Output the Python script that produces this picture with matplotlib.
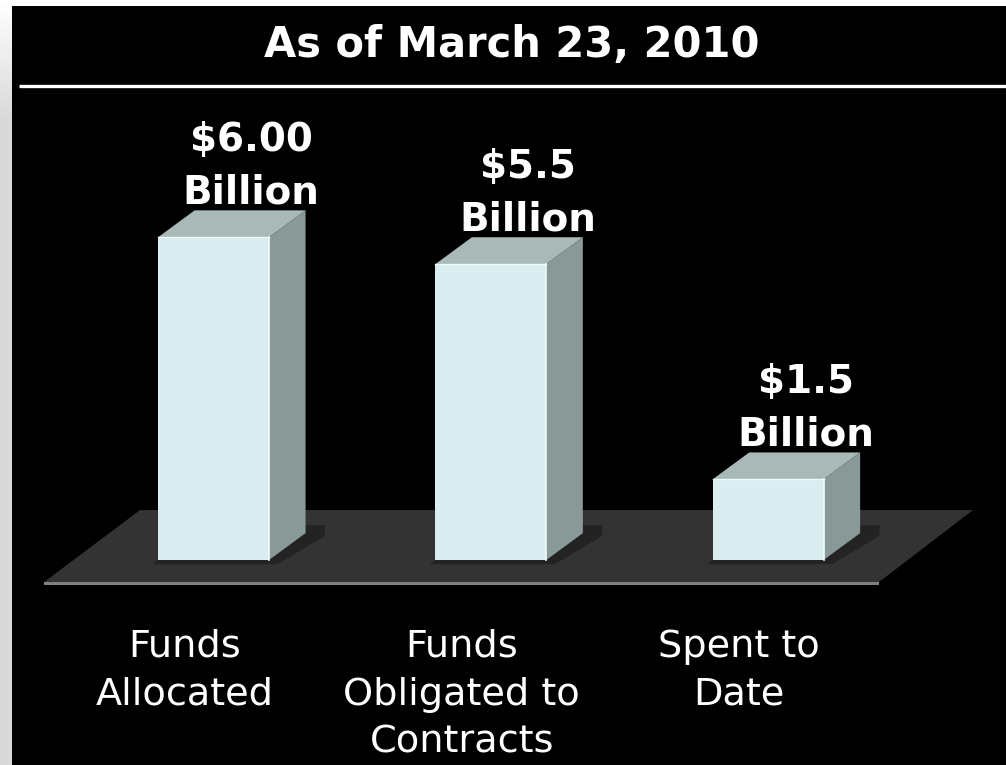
import numpy as np
import matplotlib
matplotlib.use('Agg')
import matplotlib.pyplot as plt
from matplotlib.patches import Polygon, Rectangle
from matplotlib.colors import LinearSegmentedColormap

# data
categories = ['Funds\nAllocated', 'Funds\nObligated to\nContracts', 'Spent to\nDate']
values = [6.00, 5.5, 1.5]
value_labels = ['$6.00\nBillion', '$5.5\nBillion', '$1.5\nBillion']
title = 'As of March 23, 2010'

FRONT = '#daedf1'
SIDE = '#899998'
TOP = '#a8b9b7'
FLOOR = '#333333'
FLOOR_EDGE = '#808080'

fig = plt.figure(figsize=(10.06, 7.65), dpi=100)
fig.patch.set_facecolor('white')

# background: grey strip on the left, black slide area, white rule under the title
bg = fig.add_axes([0, 0, 1, 1])
bg.set_xlim(0, 1006)
bg.set_ylim(765, 0)
bg.axis('off')
grad = np.clip(np.linspace(0, 765 / 120, 400), 0, 1).reshape(-1, 1)
cmap = LinearSegmentedColormap.from_list('strip', ['#ffffff', '#d9d9d9'])
bg.imshow(grad, cmap=cmap, extent=(0, 13, 765, 0), aspect='auto', vmin=0, vmax=1)
bg.add_patch(Rectangle((12.5, 6), 1000, 770, color='black', lw=0))
bg.plot([19, 1006], [85.5, 85.5], color='white', lw=2.4, solid_capstyle='butt')

# main chart axes
ax = fig.add_axes([0, 0, 1, 1])
ax.patch.set_alpha(0)
ax.axis('off')
ax.set_xlim(-0.770, 2.858)
ax.set_ylim(-3.81, 10.41)

x = np.arange(len(values))
half = 0.200   # half width of the front face
dx, dy = 0.132, 0.50   # depth offset

# floor
ax.add_patch(Polygon([(-0.611, -0.409), (2.40, -0.409), (2.739, 0.929), (-0.265, 0.929)],
                     closed=True, color=FLOOR, lw=0, zorder=1))
ax.add_patch(Polygon([(-0.611, -0.409), (2.40, -0.409), (2.40, -0.465), (-0.611, -0.465)],
                     closed=True, color=FLOOR_EDGE, lw=0, zorder=1))

for xi, v in zip(x, values):
    l, r = xi - half, xi + half
    # soft shadow at the foot of the bar
    ax.add_patch(Polygon([(l - 0.02, -0.08), (r + 0.03, -0.08), (r + dx + 0.07, dy - 0.05),
                          (r + dx + 0.07, dy + 0.15), (l + dx, dy + 0.15)],
                         closed=True, color='#111111', alpha=0.45, lw=0, zorder=2))
    ax.add_patch(Polygon([(r, 0), (r + dx, dy), (r + dx, v + dy), (r, v)],
                         closed=True, color=SIDE, lw=0, zorder=3))
    ax.add_patch(Polygon([(l, v), (r, v), (r + dx, v + dy), (l + dx, v + dy)],
                         closed=True, color=TOP, lw=0, zorder=3))
    ax.add_patch(Rectangle((l, 0), 2 * half, v, color=FRONT, lw=0, zorder=4))
    ax.plot([r, r], [0, v], color='#f0fbfc', lw=1.2, zorder=5)
    ax.plot([l, r], [v, v], color='#f0fbfc', lw=1.0, zorder=5)

for xi, v, lbl in zip(x, values, value_labels):
    ax.annotate(lbl, xy=(xi + 0.135, v + dy), xytext=(0, -1), textcoords='offset points',
                ha='center', va='bottom', multialignment='center', color='white',
                fontsize=28, fontweight='bold', linespacing=1.5, zorder=6)

for xi, cat in zip(x, categories):
    ax.text(xi - 0.105, -1.28, cat, ha='center', va='top', multialignment='center',
            color='white', fontsize=27.5, linespacing=1.42, zorder=6)

fig.text(512 / 1006, 1 - 57 / 765, title, ha='center', va='baseline', color='white',
         fontsize=30, fontweight='bold')

fig.savefig('out.png', dpi=100, facecolor=fig.get_facecolor())
plt.close(fig)
